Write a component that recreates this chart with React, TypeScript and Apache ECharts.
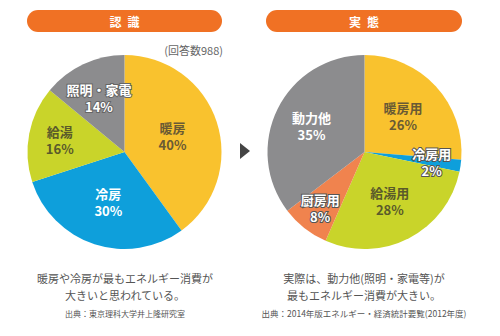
import React, { useEffect, useRef } from "react";
import * as echarts from "echarts";

const leftCategories = ["暖房", "冷房", "給湯", "照明・家電"];
const leftValues = [40, 30, 16, 14];
const rightCategories = ["暖房用", "冷房用", "給湯用", "厨房用", "動力他"];
const rightValues = [26, 2, 28, 8, 35];

const leftTitle = "認\u2002識";
const rightTitle = "実\u2002態";
const respondents = "(回答数988)";
const leftCaption = ["暖房や冷房が最もエネルギー消費が", "大きいと思われている。"];
const leftSource = "出典：東京理科大学井上隆研究室";
const rightCaption = ["実際は、動力他(照明・家電等)が", "最もエネルギー消費が大きい。"];
const rightSource = "出典：2014年版エネルギー・経済統計要覧(2012年度)";

// styles
const leftColors = ["#F9C22E", "#0E9FDB", "#C9D42A", "#8C8C8E"];
const rightColors = ["#F9C22E", "#0E9FDB", "#C9D42A", "#F0834E", "#8C8C8E"];
const leftLabelStyle = [
  { color: "#6a5a34" },
  { color: "#ffffff" },
  { color: "#5a5a2a" },
  { color: "#ffffff", textBorderColor: "#666", textBorderWidth: 2 },
];
const rightLabelStyle = [
  { color: "#6a5a34" },
  { color: "#ffffff", textBorderColor: "#555", textBorderWidth: 2 },
  { color: "#5a5a2a" },
  { color: "#ffffff", textBorderColor: "#555", textBorderWidth: 2 },
  { color: "#ffffff" },
];
const leftLabelRadius = [0.52, 0.54, 0.68, 0.62];
const rightLabelRadius = [0.54, 0.7, 0.57, 0.74, 0.61];

const FONT = "'Noto Sans CJK JP', 'Noto Sans', sans-serif";
const R = 97;
const leftCenter = [124.5, 152];
const rightCenter = [364.5, 152];

function makeLayout(center: number[], factors: number[]) {
  return (p: any) => {
    const lr = p.labelRect;
    const lx = lr.x + lr.width / 2;
    const ly = lr.y + lr.height / 2;
    const vx = lx - center[0];
    const vy = ly - center[1];
    const len = Math.sqrt(vx * vx + vy * vy) || 1;
    const target = R * factors[p.dataIndex];
    return {
      dx: (vx / len) * target - vx,
      dy: (vy / len) * target - vy,
    };
  };
}

function pieSeries(
  cats: string[],
  vals: number[],
  colors: string[],
  labelStyles: any[],
  center: number[],
  factors: number[]
) {
  return {
    type: "pie",
    center,
    radius: R,
    startAngle: 90,
    clockwise: true,
    silent: true,
    label: {
      show: true,
      position: "inside",
      formatter: "{b}\n{c}%",
      fontFamily: FONT,
      fontSize: 13,
      fontWeight: "bold",
      lineHeight: 17,
      align: "center",
    },
    labelLine: { show: false },
    labelLayout: makeLayout(center, factors),
    data: cats.map((name, i) => ({
      name,
      value: vals[i],
      itemStyle: { color: colors[i] },
      label: labelStyles[i],
    })),
  };
}

function header(x: number, w: number, text: string) {
  return {
    type: "group",
    children: [
      {
        type: "rect",
        shape: { x, y: 10, width: w, height: 22, r: 11 },
        style: { fill: "#F07124" },
      },
      {
        type: "text",
        x: x + w / 2,
        y: 21,
        style: {
          text,
          fill: "#ffffff",
          font: `bold 12px ${FONT}`,
          textAlign: "center",
          textVerticalAlign: "middle",
        },
      },
    ],
  };
}

function caption(cx: number, lines: string[], source: string, srcSize: number) {
  return [
    ...lines.map((t, i) => ({
      type: "text",
      x: cx,
      y: 278 + i * 17,
      style: {
        text: t,
        fill: "#555555",
        font: `11px ${FONT}`,
        textAlign: "center",
        textVerticalAlign: "middle",
      },
    })),
    {
      type: "text",
      x: cx,
      y: 313,
      style: {
        text: source,
        fill: "#555555",
        font: `${srcSize}px ${FONT}`,
        textAlign: "center",
        textVerticalAlign: "middle",
      },
    },
  ];
}

export default function App() {
  const ref = useRef<HTMLDivElement>(null);
  useEffect(() => {
    if (!ref.current) return;
    const chart = echarts.init(ref.current, undefined, { renderer: "svg" });
    chart.setOption({
      animation: false,
      backgroundColor: "#ffffff",
      series: [
        pieSeries(leftCategories, leftValues, leftColors, leftLabelStyle, leftCenter, leftLabelRadius),
        pieSeries(rightCategories, rightValues, rightColors, rightLabelStyle, rightCenter, rightLabelRadius),
      ],
      graphic: [
        header(27, 195, leftTitle),
        header(266, 196, rightTitle),
        {
          type: "text",
          x: 223,
          y: 50,
          style: {
            text: respondents,
            fill: "#666666",
            font: `11px ${FONT}`,
            textAlign: "right",
            textVerticalAlign: "middle",
          },
        },
        {
          type: "polygon",
          shape: { points: [[240, 143], [250, 151], [240, 159]] },
          style: { fill: "#444444" },
        },
        ...caption(125, leftCaption, leftSource, 8),
        ...caption(364, rightCaption, rightSource, 8.5),
      ],
    });
    return () => chart.dispose();
  }, []);
  return (
    <div
      ref={ref}
      style={{ position: "absolute", left: 0, top: 0, width: 500, height: 336 }}
    />
  );
}
